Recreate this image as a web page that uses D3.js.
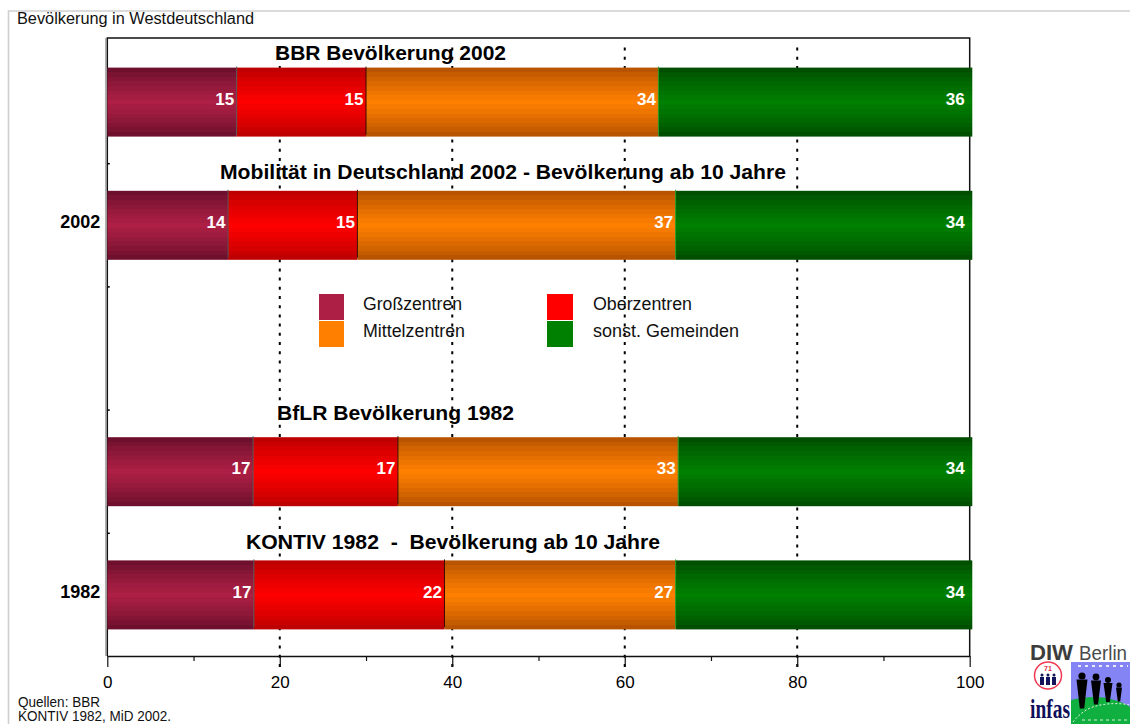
<!DOCTYPE html>
<html><head><meta charset="utf-8">
<script src="https://cdn.jsdelivr.net/npm/d3@7"></script>
<style>html,body{margin:0;padding:0;background:#fff}svg{display:block}text{font-family:"Liberation Sans",Arial,sans-serif}</style>
</head><body><div id="c"></div>
<script>
const rows = ["BBR","MiD","gap","BfLR","KONTIV"];
const rowYears = {MiD:"2002",KONTIV:"1982"};
const dataRows = ["BBR","MiD","BfLR","KONTIV"];
const seriesNames = ["Großzentren","Oberzentren","Mittelzentren","sonst. Gemeinden"];
const grosszentren = [15,14,16.9,17];
const oberzentren = [15,15,16.8,22.1];
const mittelzentren = [33.9,36.9,32.5,26.8];
const sonstGemeinden = [36.4,34.4,34.1,34.4];
const seriesValues = [grosszentren,oberzentren,mittelzentren,sonstGemeinden];
const xTicks = [0,10,20,30,40,50,60,70,80,90,100];
const gridTicks = [20,40,60,80];
const barTitles = ["BBR Bevölkerung 2002","Mobilität in Deutschland 2002 - Bevölkerung ab 10 Jahre","BfLR Bevölkerung 1982","KONTIV 1982  -  Bevölkerung ab 10 Jahre"];

const W=1130,H=724;
const svg=d3.select("#c").append("svg").attr("width",W).attr("height",H);
const x=d3.scaleLinear().domain([0,100]).range([107.3,969.7]);
const y=d3.scaleBand().domain(rows).range([40.5,656.5]).paddingInner(.44).paddingOuter(.22);
const plotTop=38,plotBottom=656;
const colors=[["#ae1f45","#640e29"],["#ff0000","#b40000"],["#ff8000","#ad4c00"],["#008000","#004800"]];
const sepColors=["#555","#3a0a00","#2a9a20",null];

// outer frame
svg.append("path").attr("d",`M8.5,${H}V11H${W}`).attr("fill","none").attr("stroke","#cfcfcf").attr("stroke-width",1.6);

// gradients, stepped like the original
const defs=svg.append("defs");
colors.forEach((c,i)=>{
  const g=defs.append("linearGradient").attr("id","g"+i).attr("x1",0).attr("x2",0).attr("y1",0).attr("y2",1);
  const n=15,ip=d3.interpolateRgb(c[1],c[0]);
  for(let k=0;k<n;k++){
    const t=1-Math.abs((k+.5)/n-.5)*2;
    const col=ip(Math.pow(t,.75));
    g.append("stop").attr("offset",k/n).attr("stop-color",col);
    g.append("stop").attr("offset",(k+1)/n).attr("stop-color",col);
  }
});

// grid
svg.append("g").selectAll("line").data(gridTicks).join("line")
 .attr("x1",d=>x(d)).attr("x2",d=>x(d)).attr("y1",plotBottom+11).attr("y2",plotTop+7)
 .attr("stroke","#000").attr("stroke-width",2).attr("stroke-dasharray","3 6.2");

// bar titles
const titleX=[275,220,277,246],titleW=[231,566,237,414],titleY=[60,179,420,549];
svg.append("g").selectAll("text").data(barTitles).join("text")
 .attr("x",(d,i)=>titleX[i]).attr("y",(d,i)=>titleY[i]).style("white-space","pre")
 .attr("font-size",21).attr("font-weight","bold").attr("fill","#000").attr("textLength",(d,i)=>titleW[i]).attr("lengthAdjust","spacingAndGlyphs").text(d=>d);

// axes frame
svg.append("path").attr("d",`M105.5,${plotTop}V${plotBottom}`).attr("stroke","#b0b0b0").attr("stroke-width",1).attr("fill","none");
svg.append("path").attr("d",`M${x(0)},${plotBottom}V${plotTop}H${x(100)}V${plotBottom}`).attr("fill","none").attr("stroke","#111").attr("stroke-width",1.5);

// bars
const stacked=dataRows.map((r,ri)=>{let s=0;return seriesValues.map((v,si)=>{const o={row:r,si,x0:s,x1:s+v[ri],v:v[ri]};s+=v[ri];return o;});}).flat();
svg.append("g").selectAll("rect").data(stacked).join("rect")
 .attr("x",d=>x(d.x0)).attr("width",d=>x(d.x1)-x(d.x0))
 .attr("y",d=>y(d.row)).attr("height",y.bandwidth())
 .attr("fill",d=>`url(#g${d.si})`);
svg.append("g").selectAll("line").data(stacked.filter(d=>sepColors[d.si])).join("line")
 .attr("x1",d=>x(d.x1)).attr("x2",d=>x(d.x1)).attr("y1",d=>y(d.row)-1).attr("y2",d=>y(d.row)+y.bandwidth()-2)
 .attr("stroke",d=>sepColors[d.si]).attr("stroke-width",1);
svg.append("g").selectAll("line").data(dataRows).join("line")
 .attr("x1",105.7).attr("x2",105.7).attr("y1",d=>y(d)).attr("y2",d=>y(d)+y.bandwidth())
 .attr("stroke","#b0b0b0").attr("stroke-width",1.5);
svg.append("g").selectAll("text").data(stacked).join("text")
 .attr("x",d=>Math.min(x(d.x1),x(99.7))-2.5).attr("y",d=>y(d.row)+y.bandwidth()/2+2.6)
 .attr("text-anchor","end").attr("font-size",17).attr("font-weight","bold").attr("fill","#fff")
 .text(d=>Math.round(d.v));

// x axis
const xAxis=svg.append("g").attr("transform",`translate(0,${plotBottom})`)
 .call(d3.axisBottom(x).tickValues(xTicks).tickSizeOuter(0).tickFormat(d=>d%20===0?d:""));
xAxis.select(".domain").attr("stroke","#111").attr("stroke-width",1.5);
xAxis.selectAll(".tick line").attr("stroke","#111").attr("stroke-width",1.2).attr("y2",d=>d%20===0?11:5);
xAxis.selectAll(".tick text").attr("y",20).attr("font-size",17).attr("fill","#000").style("font-family",'"Liberation Sans",Arial,sans-serif');

// y axis labels
const yAxis=svg.append("g").attr("transform",`translate(${x(0)},0)`)
 .call(d3.axisLeft(y).tickSize(0).tickPadding(7).tickFormat(d=>rowYears[d]||""));
yAxis.select(".domain").remove();
yAxis.selectAll(".tick text").attr("font-size",18).attr("font-weight","bold").attr("fill","#000").attr("dy","0.17em").style("font-family",'"Liberation Sans",Arial,sans-serif');
// inner tick marks on band boundaries
svg.append("g").selectAll("line").data(rows.slice(1)).join("line")
 .attr("x1",x(0)).attr("x2",x(0)+2.5)
 .attr("y1",d=>y(d)-y.step()*y.paddingInner()/2).attr("y2",d=>y(d)-y.step()*y.paddingInner()/2)
 .attr("stroke","#000").attr("stroke-width",1.5);

// legend
const legX=[319,547,319,547],legY=[294,294,321,321],legW=[25,26,25,26],txtX=[363,593,363,593],txtW=[99,99,102,146];
const legend=svg.append("g").selectAll("g").data(seriesNames).join("g");
legend.append("rect").attr("x",(d,i)=>legX[i]).attr("y",(d,i)=>legY[i]).attr("width",(d,i)=>legW[i]).attr("height",26).attr("fill",(d,i)=>colors[i][0]);
legend.append("text").attr("x",(d,i)=>txtX[i]).attr("y",(d,i)=>legY[i]+16).attr("font-size",17.5).attr("fill","#111")
 .attr("textLength",(d,i)=>txtW[i]).attr("lengthAdjust","spacingAndGlyphs").text(d=>d);

// notes
const notes=[["Bevölkerung in Westdeutschland",17,24,16,237],["Quellen: BBR",18,707,14,82],["KONTIV 1982, MiD 2002.",18,721,14,153]];
svg.append("g").selectAll("text").data(notes).join("text")
 .attr("x",d=>d[1]).attr("y",d=>d[2]).attr("font-size",d=>d[3]).attr("fill","#111").attr("textLength",d=>d[4]).attr("lengthAdjust","spacingAndGlyphs").text(d=>d[0]);

// logos
const lg=svg.append("g");
lg.append("text").attr("x",1030).attr("y",660).attr("font-size",22).attr("font-weight","bold").attr("fill","#3c3c3c").attr("textLength",43).attr("lengthAdjust","spacingAndGlyphs").text("DIW");
lg.append("text").attr("x",1079).attr("y",660).attr("font-size",21).attr("fill","#4a4a4a").attr("textLength",48).attr("lengthAdjust","spacingAndGlyphs").text("Berlin");
lg.append("circle").attr("cx",1048).attr("cy",675.5).attr("r",13.5).attr("fill","#fff").attr("stroke","#f0384f").attr("stroke-width",1.5);
[1042,1048,1054].forEach(cx=>{
  lg.append("circle").attr("cx",cx).attr("cy",675).attr("r",1.5).attr("fill","#14145a");
  lg.append("rect").attr("x",cx-2).attr("y",677).attr("width",4).attr("height",8).attr("fill","#14145a");
});
lg.append("text").attr("x",1048).attr("y",671).attr("text-anchor","middle").attr("font-size",7).attr("font-weight","bold").attr("fill","#e03040").text("71");
lg.append("text").attr("x",1030).attr("y",717.5).attr("font-size",28).attr("font-weight","bold").attr("fill","#10105a").style("font-family",'"Liberation Serif",serif').attr("textLength",40).attr("lengthAdjust","spacingAndGlyphs").text("infas");
lg.append("rect").attr("x",1071).attr("y",662).attr("width",59).attr("height",62).attr("fill","#8484f4");
lg.append("path").attr("d","M1071,700 C1082,697 1097,696 1106,698 C1116,700 1125,703 1130,707 V724 H1071Z").attr("fill","#10b040");
lg.append("path").attr("d","M1073,722 C1080,713 1088,708 1096,706 C1108,703 1120,703 1130,705").attr("fill","none").attr("stroke","#e8f5e0").attr("stroke-width",1).attr("stroke-dasharray","2 2");
lg.append("path").attr("d","M1078,666H1128").attr("stroke","#e8e8ff").attr("stroke-width",2).attr("stroke-dasharray","3 4");
lg.append("path").attr("d","M1082,720H1128").attr("stroke","#d8f0d8").attr("stroke-width",1).attr("stroke-dasharray","3 3");
[[1082,676,3.6,11,29],[1096,677,3.4,10,24],[1108,680,3,9,19],[1119,685,2.6,6,14]].forEach(([cx,cy,r,w,h])=>{
  lg.append("circle").attr("cx",cx).attr("cy",cy).attr("r",r).attr("fill","#000");
  lg.append("path").attr("d",`M${cx-w/2},${cy+r}H${cx+w/2}L${cx+w/5},${cy+r+h}H${cx-w/5}Z`).attr("fill","#000");
});
</script></body></html>
